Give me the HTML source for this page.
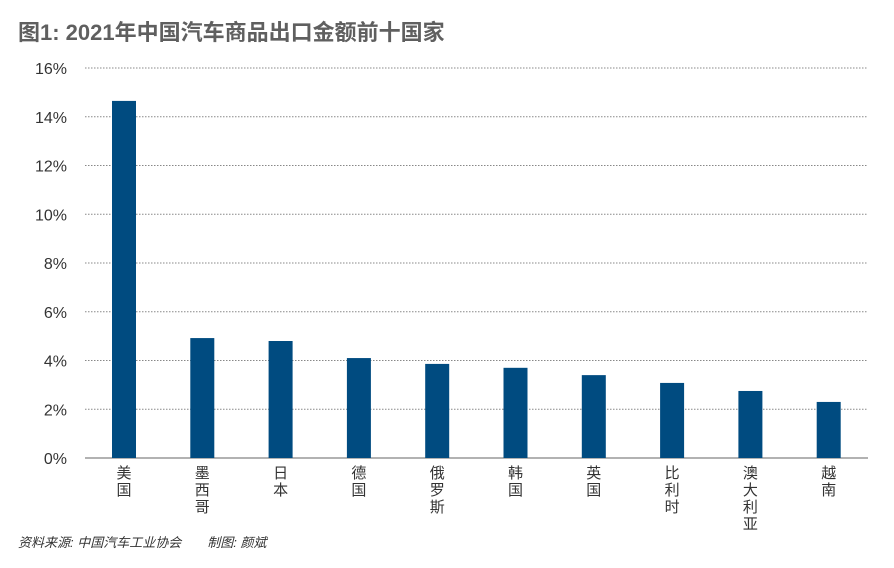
<!DOCTYPE html>
<html><head><meta charset="utf-8"><style>
body{margin:0;background:#fff;}
svg{display:block;font-family:"Liberation Sans","Noto Sans CJK SC",sans-serif;}
</style></head><body>
<svg id="chart" width="894" height="568" viewBox="0 0 894 568">
<text x="18" y="40" font-size="22" font-weight="bold" fill="#5f5f5f">图1: 2021年中国汽车商品出口金额前十国家</text>
<g id="grid"></g><g id="bars"></g><g id="labels"></g>
<text x="18" y="547" font-size="13" font-style="italic" fill="#333">资料来源: 中国汽车工业协会　　制图: 颜斌</text>
</svg>
<script>
const categories=["美国","墨西哥","日本","德国","俄罗斯","韩国","英国","比利时","澳大利亚","越南"];
const values=[14.65,4.92,4.8,4.1,3.86,3.7,3.4,3.08,2.75,2.3];
const ticks=[0,2,4,6,8,10,12,14,16];
const NS="http://www.w3.org/2000/svg";
const y0=458,y1=68,vmax=16,xL=85,xR=868,step=78.3,x0=124;
const yS=v=>y0-(v/vmax)*(y0-y1);
const xS=i=>x0+i*step;
const grid=document.getElementById('grid'),bars=document.getElementById('bars'),labels=document.getElementById('labels');
function mk(t,a){const e=document.createElementNS(NS,t);for(const k in a)e.setAttribute(k,a[k]);return e;}
ticks.forEach(t=>{
 const l=mk('line',{x1:xL,x2:xR,y1:yS(t),y2:yS(t),stroke:t===0?'#666':'#888','stroke-width':1,'stroke-dasharray':t===0?'':'1.5 1.5'});
 
 
 grid.appendChild(l);
 const tx=mk('text',{x:67,y:yS(t)+6,'font-size':16,fill:'#333','text-anchor':'end'});
 tx.textContent=t+'%';
 
 
 grid.appendChild(tx);
});
values.forEach((v,i)=>{
 const r=mk('rect',{x:xS(i)-12,y:yS(v),width:24,height:y0-yS(v),fill:'#004b80'});
 
 
 bars.appendChild(r);
 const g=mk('text',{'font-size':15,fill:'#333','text-anchor':'middle'});
 
 
 [...categories[i]].forEach((c,j)=>{const s=mk('tspan',{x:xS(i),y:478+j*17});s.textContent=c;g.appendChild(s);});
 labels.appendChild(g);
});
</script>
</body></html>
